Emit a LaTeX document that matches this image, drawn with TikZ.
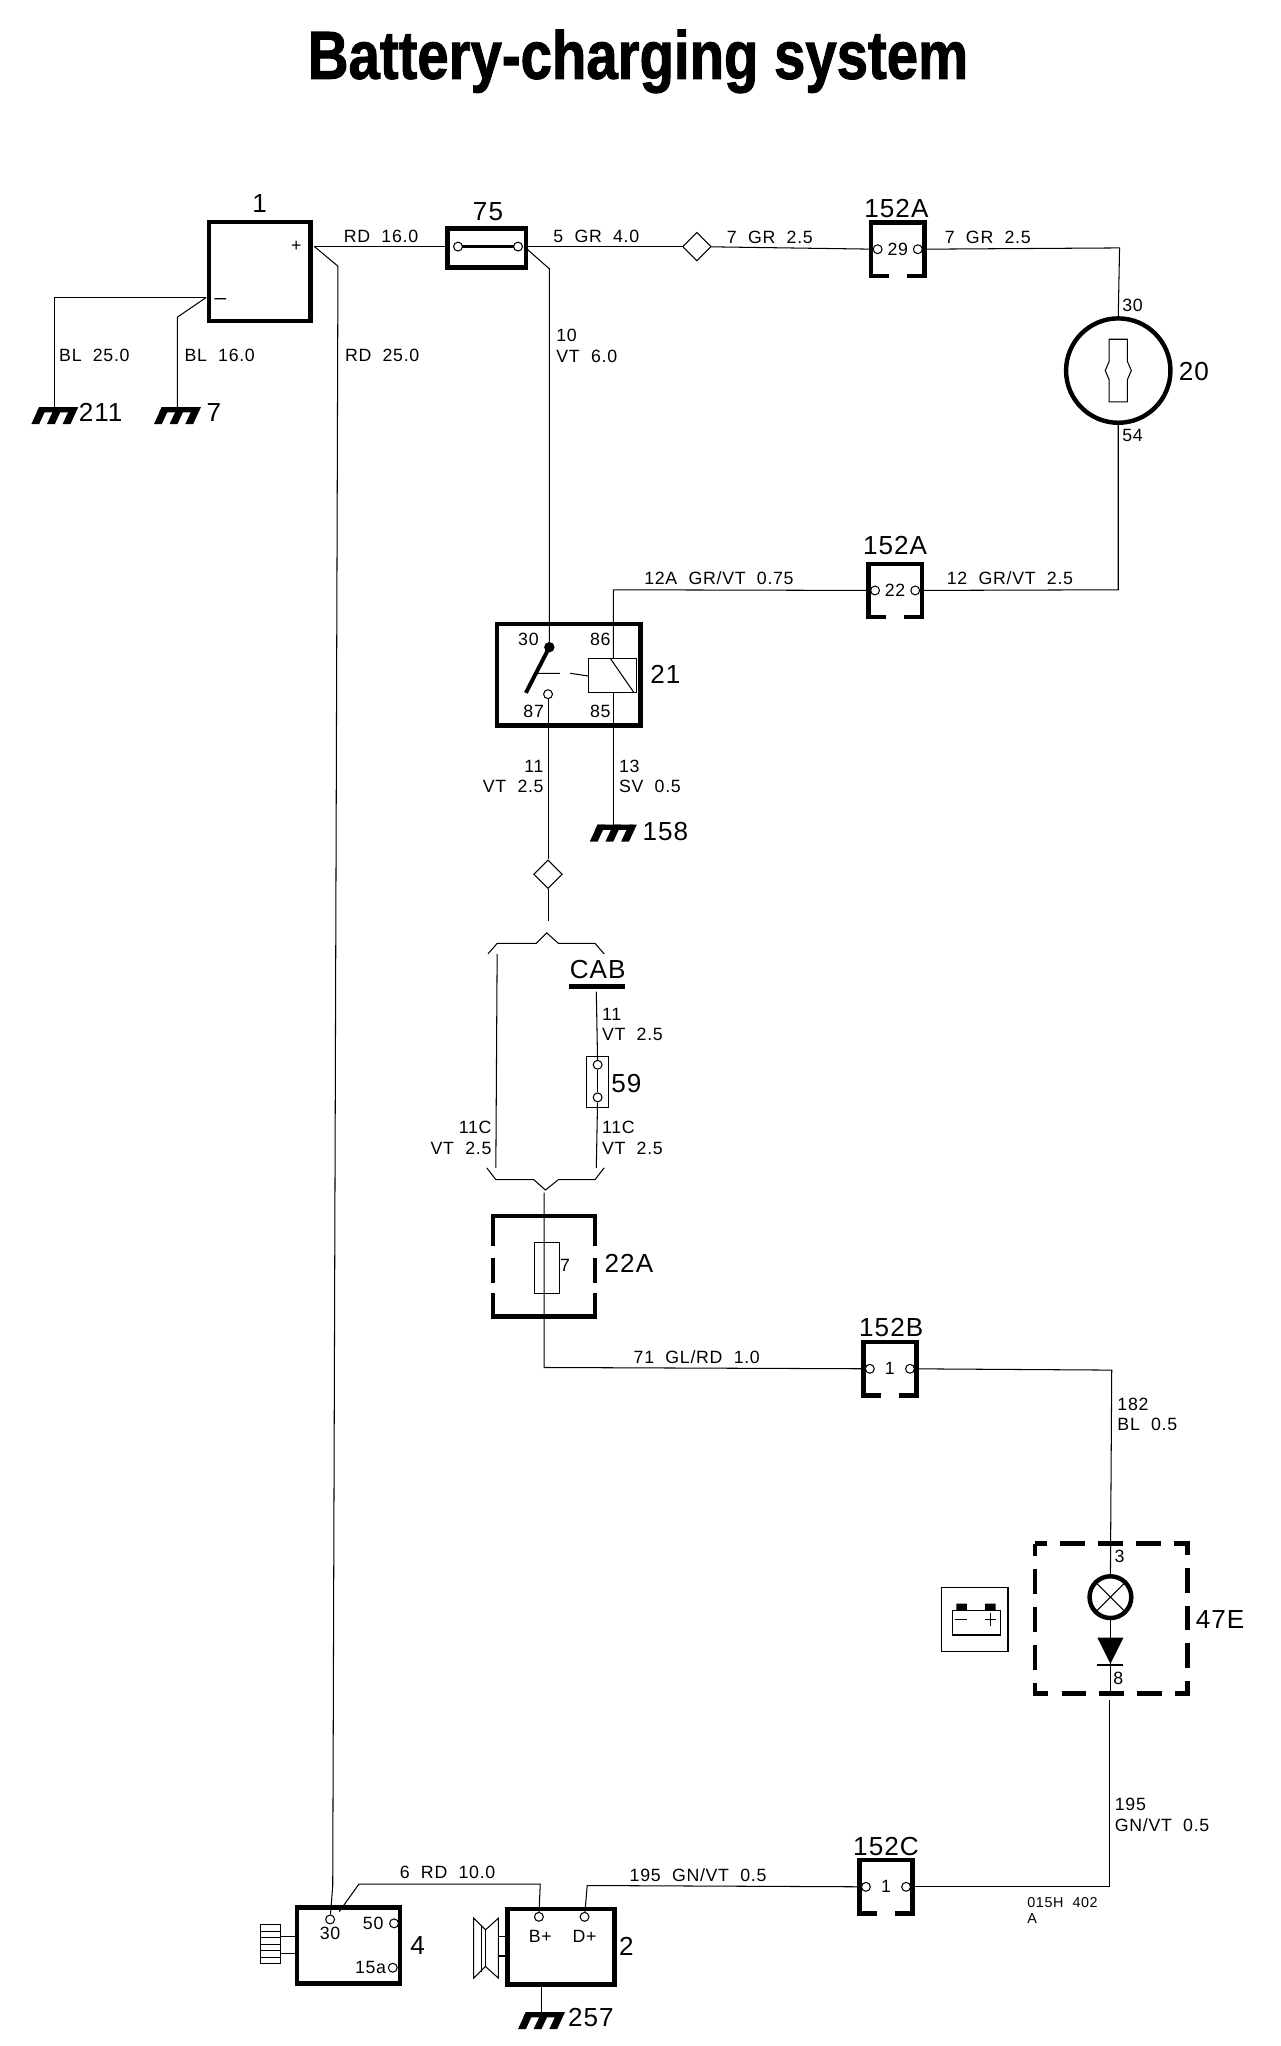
\documentclass[tikz,border=0pt]{standalone}
\usepackage{fontspec}
\setmainfont[LetterSpace=4,WordSpace=2]{Liberation Sans}
\newfontfamily\titlefont[BoldFeatures={FakeBold=1.6}]{Liberation Sans}
\usetikzlibrary{calc, shapes.geometric}

\tikzset{wire/.style = {line width=0.4pt}}
\tikzset{heavy/.style = {line width=1.7pt}}
\tikzset{unit/.style = {shape=rectangle,draw,heavy,inner sep=0pt}}
\tikzset{plug/.style = {shape=rectangle,inner sep=0pt,minimum width=20pt,minimum height=20pt,font=\fontsize{6.8}{8}\selectfont}}
\tikzset{pin/.style = {shape=circle,draw,wire,fill=white,inner sep=0pt,minimum size=3.4pt}}
\tikzset{splice/.style = {shape=diamond,draw,wire,inner sep=0pt,minimum size=11pt}}
\tikzset{small/.style = {inner sep=0pt,align=left,font=\fontsize{6.8}{7.8}\selectfont}}
\tikzset{big/.style = {inner sep=0pt,font=\fontsize{10}{12}\selectfont}}
\tikzset{mass/.pic = {
  \fill (-12,0) -- (15,0) -- (13,4) -- (-14,4) -- cycle;
  \foreach \i in {-12,0,12} \fill (\i,0) -- (\i+6,0) -- (\i,13) -- (\i-6,13) -- cycle;
}}

\begin{document}
\begin{tikzpicture}[x=0.5pt,y=-0.5pt]
\useasboundingbox (0,0) rectangle (981,1568);

\node[inner sep=0pt] (title) at (489,47) {\scalebox{0.83}[1]{\titlefont\bfseries\fontsize{26}{30}\selectfont Battery-charging system}};

% units
\node[unit, minimum width=39pt, minimum height=38pt] (batt) at (199,208) {};
\node[unit, minimum width=30pt, minimum height=15pt] (fuse) at (373,190) {};
\node[unit, shape=circle, minimum size=40pt, line width=1.7pt] (lock) at (857,284) {};
\node[unit, minimum width=55pt, minimum height=39pt] (relay) at (436,517) {};
\node[unit, minimum width=39.5pt, minimum height=29pt] (start) at (267,1491) {};
\node[unit, minimum width=41pt, minimum height=29pt] (alt) at (430,1492) {};
\node[draw, wire, minimum width=25.5pt, minimum height=24.5pt, inner sep=0pt] (icon) at (747,1241) {};
\node[draw, wire, minimum width=8.5pt, minimum height=19.5pt, inner sep=0pt] (slot) at (458,829) {};
\node[draw, wire, minimum width=9.5pt, minimum height=19.5pt, inner sep=0pt] (cell) at (419,972) {};
\node[unit, shape=circle, minimum size=16pt, fill=white] (lamp) at (851,1224) {};
\node[draw, wire, minimum width=18.5pt, minimum height=13pt, inner sep=0pt] (coil) at (469.5,518) {};

% plugs
\node[plug] (p29) at (688,191) {29};
\node[plug] (p22) at (686,452.5) {22};
\node[plug] (p1b) at (682,1049) {1};
\node[plug] (p1c) at (679,1446) {1};
\foreach \p in {p29,p22,p1b,p1c} {
  \draw[heavy] ($(\p.south)+(-7,0)$) -- (\p.south west) -- (\p.north west) -- (\p.north east) -- (\p.south east) -- ($(\p.south)+(7,0)$);
  \node[pin] (\p l) at ($(\p.west)+(5,0)$) {};
  \node[pin] (\p r) at ($(\p.east)+(-5,0)$) {};
}

% 22A box and 47E box
\coordinate (bx1) at (378,932);
\coordinate (bx2) at (456,1009);
\draw[heavy] (378,955) -- (bx1) -- (456,932) -- (456,955);
\draw[heavy] (378,964) -- (378,983) (456,964) -- (456,983);
\draw[heavy] (378,991) -- (378,1009) -- (bx2) -- (456,991);
\coordinate (hi) at (793,1183);
\coordinate (lo) at (910,1298);
\draw[heavy, dash pattern=on 9.5pt off 5pt, dash phase=4.75pt] (hi) rectangle (lo);

% ports
\coordinate (battp) at (241,189);
\coordinate (battm) at (158,228);
\coordinate (fusel) at (351,189);
\coordinate (fuser) at (397,189);
\node[splice] (dia1) at (534,189) {};
\node[splice] (dia2) at (420,670) {};
\node[pin] (f1) at (458,816) {};
\node[pin] (f2) at (458,841) {};
\node[pin] (r87) at (420,532) {};
\node[pin] (s30) at (253,1471) {};
\node[pin] (s50) at (302,1474) {};
\node[pin] (s15) at (301,1508) {};
\node[pin] (abp) at (413,1469) {};
\node[pin] (adp) at (448,1469) {};
\coordinate (pivot) at (421,496);
\coordinate (coilin) at (470,505);
\coordinate (coilout) at (470,531);
\coordinate (gnd1) at (42,312);
\coordinate (gnd2) at (136,312);
\coordinate (gnd3) at (470,632);
\coordinate (gnd4) at (415,1542);

% wires
\draw[wire] (battm) -- (42,228) -- (gnd1);
\draw[wire] (battm) -- (136,243) -- (gnd2);
\draw[wire] (battp) -- (fuse.west |- battp);
\draw[wire] (battp) -- (259,204) -- (255,1445) -- (s30);
\draw[wire] (fuse.east |- fuser) -- (dia1);
\draw[wire] (fuser) ++(7,2) -- (421,206) -- (pivot);
\draw[wire] (dia1) -- (p29l);
\draw[wire] (p29r) -- (858,190) -- (lock.north);
\draw[wire] (lock.south) -- (857,452) -- (p22r);
\draw[wire] (p22l) -- (470,452) -- (coilin);
\draw[wire] (coilout) -- (gnd3);
\draw[wire] (r87) -- (dia2);
\draw[wire] (dia2) -- (420,706);
\draw[wire] (381,731) -- (380,895);
\draw[wire] (457,760) -- (f1);
\draw[wire] (f1) -- (f2);
\draw[wire] (f2) -- (457,895);
\draw[wire] (417,914) -- (417,1048) -- (p1bl);
\draw[wire] (p1br) -- (852,1050) -- (lamp.north);
\draw[wire] (lamp.south) -- (851,1276);
\draw[wire] (851,1276) -- (851,1298);
\draw[wire] (850,1303) -- (850,1446) -- (p1cr);
\draw[wire] (p1cl) -- (450,1445) -- (adp);
\draw[wire] (abp) -- (414,1444) -- (275,1444) -- (260,1465);
\draw[wire] (alt.south -| gnd4) -- (gnd4);

% brackets
\draw[wire] (374,731) -- (381,723) -- (411,723) -- (419,715) -- (428,723) -- (456,723) -- (463,731);
\draw[wire] (373,895) -- (380,904) -- (409,904) -- (418,912) -- (428,904) -- (456,904) -- (463,895);

% fuse, key, relay inner parts
\draw[line width=1.2pt] (fusel) -- (fuser);
\node[pin] (fl) at (fusel) {};
\node[pin] (fr) at (fuser) {};
\draw[wire] (850,260) -- (864,260) -- (864,277) -- (867,284) -- (864,291) -- (864,308) -- (850,308) -- (850,291) -- (847,284) -- (850,277) -- cycle;
\draw[line width=1.5pt] (pivot) -- (403,531);
\fill (pivot) circle (2pt);
\draw[wire] (411,516) -- (429,516) (437,516) -- (coil.west);
\draw[wire] (468,505) -- (486,531);

% lamp, diode
\draw[wire] (lamp.north west) -- (lamp.south east) (lamp.north east) -- (lamp.south west);
\fill (841,1255) -- (861,1255) -- (851,1275) -- cycle;
\draw[line width=0.8pt] (841,1276) -- (861,1276);

% battery icon
\draw[wire] (730,1234) rectangle (767,1253);
\fill (733,1229) rectangle (741,1234) (755,1229) rectangle (763,1234);
\draw[wire] (732,1241) -- (741,1241) (755,1241) -- (763,1241) (759,1236) -- (759,1246);

% CAB bar
\draw[line width=2pt] (436,756) -- (479,756);

% knob and pulley
\draw[wire] (200,1475) rectangle (215,1505);
\foreach \y in {1480,1485,1490,1495,1500} \draw[wire] (200,\y) -- (215,\y);
\draw[wire] (215,1484) -- (228,1484) (215,1497) -- (228,1497);
\draw[wire] (363,1470) -- (372,1479) -- (382,1470) -- (382,1516) -- (372,1507) -- (363,1516) -- cycle;
\draw[wire] (369,1476) -- (369,1511) (372,1479) -- (372,1507);
\draw[wire] (382,1484) -- (389,1484) (382,1499) -- (389,1499);

% ground
\pic (g1) at (gnd1) {mass};
\pic (g2) at (gnd2) {mass};
\pic (g3) at (gnd3) {mass};
\pic (g4) at (gnd4) {mass};

% big labels
\node[big] (n1) at (199,156) {1};
\node[big] (n2) at (374,162) {75};
\node[big] (n3) at (687,160) {152A};
\node[big] (n4) at (686,418) {152A};
\node[big] (n5) at (915,285) {20};
\node[big] (n6) at (510,517) {21};
\node[big, anchor=west] (n7) at (60,316) {211};
\node[big, anchor=west] (n8) at (158,316) {7};
\node[big, anchor=west] (n9) at (492,637) {158};
\node[big] (n10) at (458,743) {CAB};
\node[big] (n11) at (480,830) {59};
\node[big] (n12) at (482,968) {22A};
\node[big] (n13) at (683,1017) {152B};
\node[big] (n14) at (935,1241) {47E};
\node[big] (n15) at (679,1415) {152C};
\node[big] (n16) at (320,1491) {4};
\node[big] (n17) at (480,1492) {2};
\node[big, anchor=west] (n18) at (435,1546) {257};

% small labels
\node[small] (t1) at (292,181) {RD 16.0};
\node[small] (t2) at (457,181) {5 GR 4.0};
\node[small] (t3) at (590,182) {7 GR 2.5};
\node[small] (t4) at (757,182) {7 GR 2.5};
\node[small, anchor=west] (t5) at (45,272) {BL 25.0};
\node[small, anchor=west] (t6) at (141,272) {BL 16.0};
\node[small, anchor=west] (t7) at (264,272) {RD 25.0};
\node[small, anchor=west] (t8) at (426,265) {10\\VT 6.0};
\node[small] (t9) at (868,234) {30};
\node[small] (t10) at (868,334) {54};
\node[small] (t11) at (551,443) {12A GR/VT 0.75};
\node[small] (t12) at (774,443) {12 GR/VT 2.5};
\node[small] (t13) at (405,490) {30};
\node[small] (t14) at (460,490) {86};
\node[small] (t15) at (409,545) {87};
\node[small] (t16) at (460,545) {85};
\node[small, anchor=east, align=right] (t17) at (417,595) {11\\VT 2.5};
\node[small, anchor=west] (t18) at (474,595) {13\\SV 0.5};
\node[small, anchor=west] (t19) at (461,785) {11\\VT 2.5};
\node[small, anchor=east, align=right] (t20) at (377,872) {11C\\VT 2.5};
\node[small, anchor=west] (t21) at (461,872) {11C\\VT 2.5};
\node[small] (t22) at (433,970) {7};
\node[small] (t23) at (534,1040) {71 GL/RD 1.0};
\node[small, anchor=west] (t24) at (856,1084) {182\\BL 0.5};
\node[small] (t25) at (858,1193) {3};
\node[small] (t26) at (857,1286) {8};
\node[small, anchor=west] (t27) at (854,1391) {195\\GN/VT 0.5};
\node[small] (t28) at (535,1437) {195 GN/VT 0.5};
\node[small] (t29) at (343,1435) {6 RD 10.0};
\node[small, anchor=west, font=\fontsize{5.5}{6.5}\selectfont] (t30) at (787,1458) {015H 402};
\node[small, anchor=west, font=\fontsize{5.5}{6.5}\selectfont] (t31) at (787,1470) {A};
\node[small] (t32) at (253,1482) {30};
\node[small] (t33) at (286,1474) {50};
\node[small] (t34) at (284,1508) {15a};
\node[small] (t35) at (414,1484) {B+};
\node[small] (t36) at (448,1484) {D+};
\node[small] (t37) at (227,189) {+};
\node[small, font=\fontsize{8}{9}\selectfont] (t38) at (169,231) {--};
\end{tikzpicture}
\end{document}
